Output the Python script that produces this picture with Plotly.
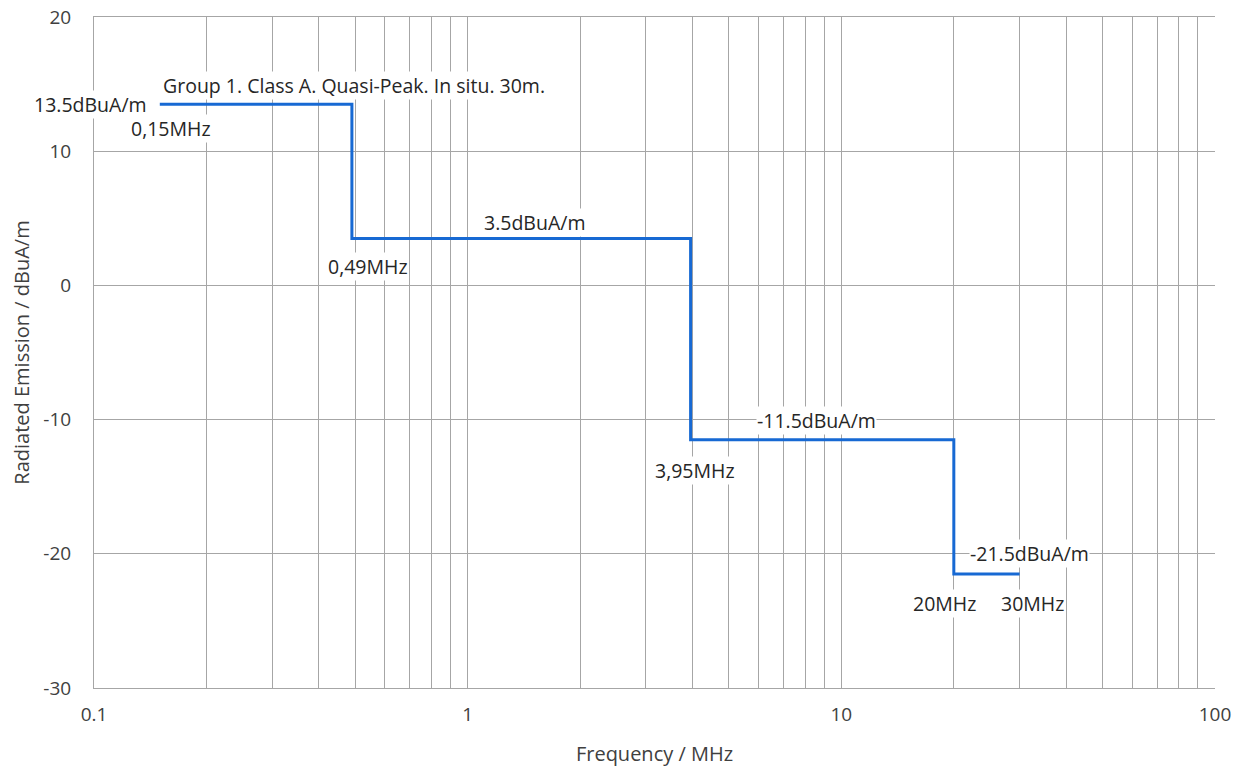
import plotly.graph_objects as go
import math

# Limit step line data
freq_mhz = [0.15, 0.49, 0.49, 3.95, 3.95, 20, 20, 30]
limit_dbua = [13.5, 13.5, 3.5, 3.5, -11.5, -11.5, -21.5, -21.5]

# Annotation texts
title_text = "Group 1. Class A. Quasi-Peak. In situ. 30m."
level_labels = ["13.5dBuA/m", "3.5dBuA/m", "-11.5dBuA/m", "-21.5dBuA/m"]
level_values = [13.5, 3.5, -11.5, -21.5]
level_x = [0.15, 1.51, 8.6, 31.8]
freq_labels = ["0,15MHz", "0,49MHz", "3,95MHz", "20MHz", "30MHz"]
freq_values = [0.15, 0.49, 3.95, 20, 30]
freq_y = [13.5, 3.5, -11.5, -21.5, -21.5]

major_ticks = [0.1, 1, 10, 100]
major_text = ["0.1", "1", "10", "100"]
y_ticks = [-30, -20, -10, 0, 10, 20]
y_text = ["-30", "-20", "-10", "0", "10", "20"]

tickvals, ticktext = [], []
for d in [0.1, 1, 10]:
    for m in range(1, 10):
        tickvals.append(round(d * m, 6))
        ticktext.append(major_text[major_ticks.index(d)] if m == 1 else "")
tickvals.append(100)
ticktext.append("100")

fig = go.Figure()
fig.add_trace(go.Scatter(x=freq_mhz, y=limit_dbua, mode="lines",
                         line=dict(color="#1769d3", width=3), hoverinfo="skip",
                         showlegend=False))

FONT = "Open Sans"
TXT = "#262626"
FS = 19.5
anns = []
anns.append(dict(x=math.log10(0.15), y=13.5, text=title_text, xanchor="left",
                 yanchor="middle", xshift=2, yshift=19, showarrow=False,
                 font=dict(size=FS, color=TXT), bgcolor="white", borderpad=0))
shifts = [(-12, 0, "right"), (0, 16, "center"), (0, 19, "center"), (0, 20, "center")]
for t, v, xv, (xs, ys, xa) in zip(level_labels, level_values, level_x, shifts):
    anns.append(dict(x=math.log10(xv), y=v, text=t, xanchor=xa, yanchor="middle",
                     xshift=xs, yshift=ys, showarrow=False,
                     font=dict(size=FS, color=TXT), bgcolor="white", borderpad=0))
fshifts = [(11, -24), (16, -28), (4, -31), (-9, -30), (13, -30)]
for t, f, yv, (xs, ys) in zip(freq_labels, freq_values, freq_y, fshifts):
    anns.append(dict(x=math.log10(f), y=yv, text=t, xanchor="center", yanchor="middle",
                     xshift=xs, yshift=ys, showarrow=False,
                     font=dict(size=FS, color=TXT), bgcolor="white", borderpad=0))

fig.update_layout(
    width=1245, height=772,
    margin=dict(l=86, r=38, t=9, b=92, autoexpand=False),
    paper_bgcolor="white", plot_bgcolor="white",
    font=dict(family=FONT, size=FS, color="#404040"),
    annotations=anns,
    xaxis=dict(type="log", range=[-1, 2], tickvals=tickvals, ticktext=ticktext,
               showgrid=True, gridcolor="#a6a6a6", gridwidth=1, automargin=False,
               showline=True, linecolor="#a6a6a6", mirror=True, ticks="",
               ticklabelstandoff=9, ticklabeloverflow="allow",
               zeroline=False, tickfont=dict(size=19, color="#404040"),
               title=dict(text="Frequency / MHz", font=dict(size=20, color="#404040"), standoff=21)),
    yaxis=dict(range=[-30, 20], tickvals=y_ticks, ticktext=y_text, showgrid=True,
               gridcolor="#a6a6a6", automargin=False,
               gridwidth=1, showline=True, linecolor="#a6a6a6", ticks="",
               ticklabelstandoff=18, ticklabeloverflow="allow",
               zeroline=False, tickfont=dict(size=19, color="#404040"),
               title=dict(text="Radiated Emission / dBuA/m", font=dict(size=20, color="#404040"), standoff=12)),
)

fig.write_html("out.html")
